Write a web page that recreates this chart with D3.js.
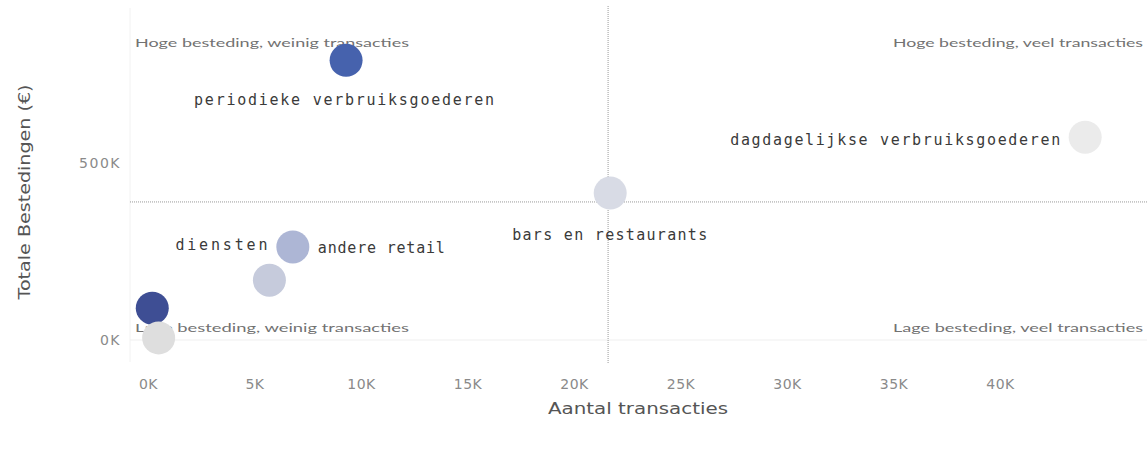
<!DOCTYPE html>
<html>
<head>
<meta charset="utf-8">
<script src="https://cdn.jsdelivr.net/npm/d3@7"></script>
<style>
  html, body { margin: 0; padding: 0; background: #fff; }
  svg { display: block; }
</style>
</head>
<body>
<svg id="chart" width="1147" height="449"></svg>
<script>
// ---- data ----
const categories = ["periodieke verbruiksgoederen", "dagdagelijkse verbruiksgoederen", "bars en restaurants", "andere retail", "diensten", "overig A", "overig B"];
const transactions = [9300, 44000, 21700, 6800, 5700, 200, 500];
const spending = [790000, 573000, 415000, 263000, 169000, 90000, 6000];
const colors = ["#4662ad", "#ebebeb", "#d8dbe5", "#adb6d5", "#c6cbdc", "#3e4e94", "#dedede"];
const showLabel = [true, true, true, true, true, false, false];
const xTicks = [0, 5000, 10000, 15000, 20000, 25000, 30000, 35000, 40000];
const yTicks = [0, 500000];
const refX = 21600;   // reference line, transacties
const refY = 390000;  // reference line, bestedingen
const quadrantLabels = ["Hoge besteding, weinig transacties", "Hoge besteding, veel transacties", "Lage besteding, weinig transacties", "Lage besteding, veel transacties"];

const svg = d3.select("#chart");
const x = d3.scaleLinear().domain([0, 40000]).range([148, 1000]);
const y = d3.scaleLinear().domain([0, 500000]).range([340, 163]);
const fmt = d => (d / 1000) + "K";

// faint pane edge + zero line
svg.append("line").attr("x1", 130).attr("x2", 130).attr("y1", 8).attr("y2", 362)
  .attr("stroke", "#f2f2f2").attr("stroke-width", 1);
svg.append("line").attr("x1", 130).attr("x2", 1147).attr("y1", y(0)).attr("y2", y(0))
  .attr("stroke", "#efefef").attr("stroke-width", 1);

// axes
const xAxis = svg.append("g").attr("transform", "translate(0,384)")
  .call(d3.axisBottom(x).tickValues(xTicks).tickFormat(fmt).tickSize(0).tickPadding(0));
xAxis.select(".domain").remove();
xAxis.selectAll("text").attr("fill", "#8a8a8a").attr("font-family", "DejaVu Sans, sans-serif")
  .attr("font-size", 14).attr("letter-spacing", 0.5).attr("dy", "0.35em");

const yAxis = svg.append("g").attr("transform", "translate(121,0)")
  .call(d3.axisLeft(y).tickValues(yTicks).tickFormat(fmt).tickSize(0).tickPadding(0));
yAxis.select(".domain").remove();
yAxis.selectAll("text").attr("fill", "#8a8a8a").attr("font-family", "DejaVu Sans, sans-serif")
  .attr("font-size", 14).attr("letter-spacing", 1.5);

// axis titles
svg.append("text").attr("x", 638).attr("y", 414).attr("text-anchor", "middle")
  .attr("font-family", "DejaVu Sans, sans-serif").attr("font-size", 15).attr("fill", "#555")
  .attr("textLength", 180).attr("lengthAdjust", "spacingAndGlyphs")
  .text("Aantal transacties");
svg.append("text").attr("transform", "translate(30,192) rotate(-90)").attr("text-anchor", "middle")
  .attr("font-family", "DejaVu Sans, sans-serif").attr("font-size", 15).attr("fill", "#555")
  .attr("textLength", 215).attr("lengthAdjust", "spacingAndGlyphs")
  .text("Totale Bestedingen (€)");

// reference lines
svg.append("line").attr("x1", 130).attr("x2", 1147).attr("y1", y(refY)).attr("y2", y(refY))
  .attr("stroke", "#9a9a9a").attr("stroke-width", 1).attr("stroke-dasharray", "1,1");
svg.append("line").attr("x1", x(refX)).attr("x2", x(refX)).attr("y1", 6).attr("y2", 363)
  .attr("stroke", "#9a9a9a").attr("stroke-width", 1).attr("stroke-dasharray", "1,1");

// quadrant labels
const qStyle = s => s.attr("font-family", "Lato, sans-serif").attr("font-size", 12)
  .attr("fill", "#727272").attr("textLength", 274).attr("lengthAdjust", "spacingAndGlyphs");
svg.append("text").attr("x", 135).attr("y", 47).text(quadrantLabels[0]).call(qStyle);
svg.append("text").attr("x", 1143).attr("y", 47).attr("text-anchor", "end").text(quadrantLabels[1]).call(qStyle).attr("textLength", 250);
svg.append("text").attr("x", 135).attr("y", 332).text(quadrantLabels[2]).call(qStyle);
svg.append("text").attr("x", 1143).attr("y", 332).attr("text-anchor", "end").text(quadrantLabels[3]).call(qStyle).attr("textLength", 250);

// points
const data = categories.map((c, i) => ({ name: c, tx: transactions[i], sp: spending[i], color: colors[i], label: showLabel[i] }));
svg.append("g").selectAll("circle").data(data).join("circle")
  .attr("cx", d => x(d.tx)).attr("cy", d => y(d.sp)).attr("r", 16.5)
  .attr("fill", d => d.color);

// labels: placement relative to the mark
const labelPos = {
  "periodieke verbruiksgoederen": { dx: -152, dy: 45, anchor: "start", len: 300 },
  "dagdagelijkse verbruiksgoederen": { dx: -25, dy: 8, anchor: "end", len: 330 },
  "bars en restaurants": { dx: -98, dy: 47, anchor: "start", len: 195 },
  "andere retail": { dx: 25, dy: 6, anchor: "start", len: 127 },
  "diensten": { dx: -2, dy: -30, anchor: "end", len: 92 }
};
svg.append("g").selectAll("text").data(data.filter(d => d.label)).join("text")
  .attr("x", d => x(d.tx) + labelPos[d.name].dx)
  .attr("y", d => y(d.sp) + labelPos[d.name].dy)
  .attr("text-anchor", d => labelPos[d.name].anchor)
  .attr("font-family", "DejaVu Sans Mono, monospace").attr("font-size", 15).attr("fill", "#3a3a3a")
  .attr("textLength", d => labelPos[d.name].len).attr("lengthAdjust", "spacing")
  .text(d => d.name);
</script>
</body>
</html>
